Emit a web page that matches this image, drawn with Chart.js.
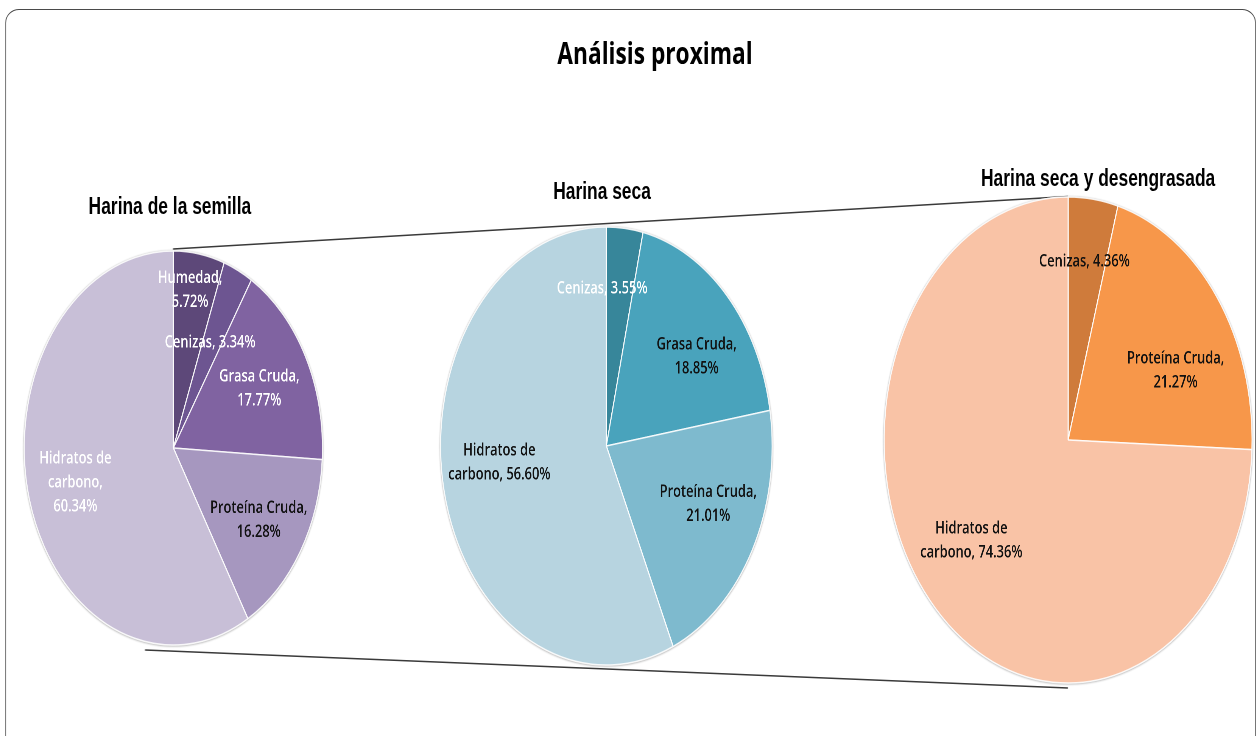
<!DOCTYPE html>
<html>
<head>
<meta charset="utf-8">
<script src="https://cdn.jsdelivr.net/npm/chart.js@4.4.1/dist/chart.umd.min.js"></script>
<style>
  html, body { margin: 0; padding: 0; background: #fff; overflow: hidden; }
  body { width: 1258px; height: 736px; position: relative; }
  #stage { position: absolute; left: 0; top: 0; width: 1662px; height: 736px; transform-origin: 0 0; }
  #frame { position: absolute; left: 6.6px; top: 9px; width: 1652px; height: 770px; border: 1.5px solid #4a4a4a; border-radius: 18px / 14px; box-sizing: border-box; }
  .ttl { position: absolute; white-space: nowrap; text-align: center; color: #000; }
  #mainTitle { font: bold 30px "Open Sans", sans-serif; line-height: 30px; }
  .sub { font: bold 23px "Liberation Sans", Arial, sans-serif; line-height: 23px; }
  canvas.pie { position: absolute; }
  #bg { position: absolute; left: 0; top: 0; }
</style>
</head>
<body>
<div id="stage">
  <div id="frame"></div>
  <canvas id="bg" width="1662" height="736"></canvas>
  <div id="mainTitle" class="ttl"></div>
  <div id="sub0" class="ttl sub"></div>
  <div id="sub1" class="ttl sub"></div>
  <div id="sub2" class="ttl sub"></div>
  <canvas id="pie0" class="pie"></canvas>
  <canvas id="pie1" class="pie"></canvas>
  <canvas id="pie2" class="pie"></canvas>
</div>
<script>
// ---------- DATA ----------
const mainTitle = 'Análisis proximal';
const chartTitles = ['Harina de la semilla', 'Harina seca', 'Harina seca y desengrasada'];

const categories1 = ['Humedad', 'Cenizas', 'Grasa Cruda', 'Proteína Cruda', 'Hidratos de carbono'];
const values1 = [5.72, 3.34, 17.77, 16.28, 60.34];

const categories2 = ['Cenizas', 'Grasa Cruda', 'Proteína Cruda', 'Hidratos de carbono'];
const values2 = [3.55, 18.85, 21.01, 56.60];

const categories3 = ['Cenizas', 'Proteína Cruda', 'Hidratos de carbono'];
const values3 = [4.36, 21.27, 74.36];

// ---------- STYLE / LAYOUT ----------
const SX = 0.757; // horizontal squash of the whole picture
document.getElementById('stage').style.transform = 'scaleX(' + SX + ')';

const colors = [
  ['#5d4879', '#6d5591', '#8063a1', '#a697bf', '#c8bfd7'],
  ['#37869a', '#49a3bc', '#7ebace', '#b7d4e0'],
  ['#cf7b3b', '#f7974a', '#f9c3a6']
];
const textColors = [
  ['#ffffff', '#ffffff', '#ffffff', '#111111', '#ffffff'],
  ['#ffffff', '#111111', '#111111', '#111111'],
  ['#111111', '#111111', '#111111']
];
// label placement relative to each slice: angle shift (deg) from mid-angle, radius fraction, word breaks
const labelPlace = [
  [{s: -2, f: 0.81, b: [1]}, {s: -1, f: 0.59, b: []}, {s: 0, f: 0.65, b: [2]}, {s: 1, f: 0.68, b: [2]}, {s: 0, f: 0.68, b: [2, 3]}],
  [{s: -8.4, f: 0.72, b: []}, {s: 6.5, f: 0.68, b: [2]}, {s: -5, f: 0.67, b: [2]}, {s: 5.1, f: 0.65, b: [2]}],
  [{s: -1, f: 0.74, b: []}, {s: 10, f: 0.65, b: [2]}, {s: 5.6, f: 0.67, b: [2]}]
];
// pie geometry (centre x in squashed px, centre y, radius)
const pieGeom = [
  {cx: 173, cy: 448, r: 197},
  {cx: 606.5, cy: 445.5, r: 219},
  {cx: 1068.5, cy: 439.5, r: 243}
];

// ---------- TITLES ----------
function placeText(id, text, cxSquashed, cy, h) {
  const el = document.getElementById(id);
  el.textContent = text;
  const w = el.offsetWidth;
  el.style.left = (cxSquashed / SX - w / 2) + 'px';
  el.style.top = (cy - h / 2) + 'px';
}
placeText('mainTitle', mainTitle, 655, 53, 30);
placeText('sub0', chartTitles[0], 170, 206, 23);
placeText('sub1', chartTitles[1], 602, 191, 23);
placeText('sub2', chartTitles[2], 1098, 178, 23);

// ---------- CONNECTOR LINES ----------
(function () {
  const c = document.getElementById('bg').getContext('2d');
  c.strokeStyle = '#3a3a3a';
  c.lineWidth = 1.6;
  c.beginPath();
  c.moveTo(173 / SX, 249); c.lineTo(1068 / SX, 196.5);
  c.moveTo(145 / SX, 650); c.lineTo(1068 / SX, 688);
  c.stroke();
})();

// ---------- PLUGINS ----------
const shadowPlugin = {
  id: 'pieShadow',
  beforeDatasetsDraw(chart) {
    const arc = chart.getDatasetMeta(0).data[0];
    if (!arc) return;
    const {x, y, outerRadius} = arc.getProps(['x', 'y', 'outerRadius'], true);
    const ctx = chart.ctx;
    ctx.save();
    ctx.shadowColor = 'rgba(0,0,0,0.35)';
    ctx.shadowBlur = 4;
    ctx.shadowOffsetX = 0;
    ctx.shadowOffsetY = 1;
    ctx.fillStyle = '#d8d8d8';
    ctx.beginPath();
    ctx.arc(x, y, outerRadius + 0.8, 0, Math.PI * 2);
    ctx.fill();
    ctx.restore();
  }
};

const labelPlugin = {
  id: 'sliceLabels',
  afterDatasetsDraw(chart, args, opts) {
    const ctx = chart.ctx;
    const meta = chart.getDatasetMeta(0);
    const vals = chart.data.datasets[0].data;
    const labs = chart.data.labels;
    ctx.save();
    ctx.font = '600 17px "Open Sans", sans-serif';
    ctx.textAlign = 'center';
    ctx.textBaseline = 'middle';
    meta.data.forEach((arc, i) => {
      const p = arc.getProps(['x', 'y', 'startAngle', 'endAngle', 'outerRadius'], true);
      const pl = opts.place[i];
      const ang = (p.startAngle + p.endAngle) / 2 + pl.s * Math.PI / 180;
      const px = p.x + Math.cos(ang) * p.outerRadius * pl.f;
      const py = p.y + Math.sin(ang) * p.outerRadius * pl.f;
      const words = (labs[i] + ', ' + vals[i].toFixed(2) + '%').split(' ');
      const lines = [];
      let start = 0;
      pl.b.concat([words.length]).forEach(br => { lines.push(words.slice(start, br).join(' ')); start = br; });
      const lh = 24;
      ctx.fillStyle = opts.colors[i];
      lines.forEach((ln, k) => {
        ctx.fillText(ln, px, py + (k - (lines.length - 1) / 2) * lh);
      });
    });
    ctx.restore();
  }
};

// ---------- CHARTS ----------
const allCats = [categories1, categories2, categories3];
const allVals = [values1, values2, values3];
const PAD = 8;
allCats.forEach((cats, k) => {
  const g = pieGeom[k];
  const size = 2 * (g.r + PAD);
  const cv = document.getElementById('pie' + k);
  cv.width = size; cv.height = size;
  cv.style.width = size + 'px'; cv.style.height = size + 'px';
  cv.style.left = (g.cx / SX - size / 2) + 'px';
  cv.style.top = (g.cy - size / 2) + 'px';
  new Chart(cv, {
    type: 'pie',
    data: {
      labels: cats,
      datasets: [{
        data: allVals[k],
        backgroundColor: colors[k],
        borderColor: 'rgba(255,255,255,0.85)',
        borderWidth: 1.5,
        radius: g.r
      }]
    },
    options: {
      responsive: false,
      animation: false,
      devicePixelRatio: 2,
      layout: {padding: 0},
      plugins: {
        legend: {display: false},
        tooltip: {enabled: false},
        sliceLabels: {place: labelPlace[k], colors: textColors[k]}
      }
    },
    plugins: [shadowPlugin, labelPlugin]
  });
});
</script>
</body>
</html>
